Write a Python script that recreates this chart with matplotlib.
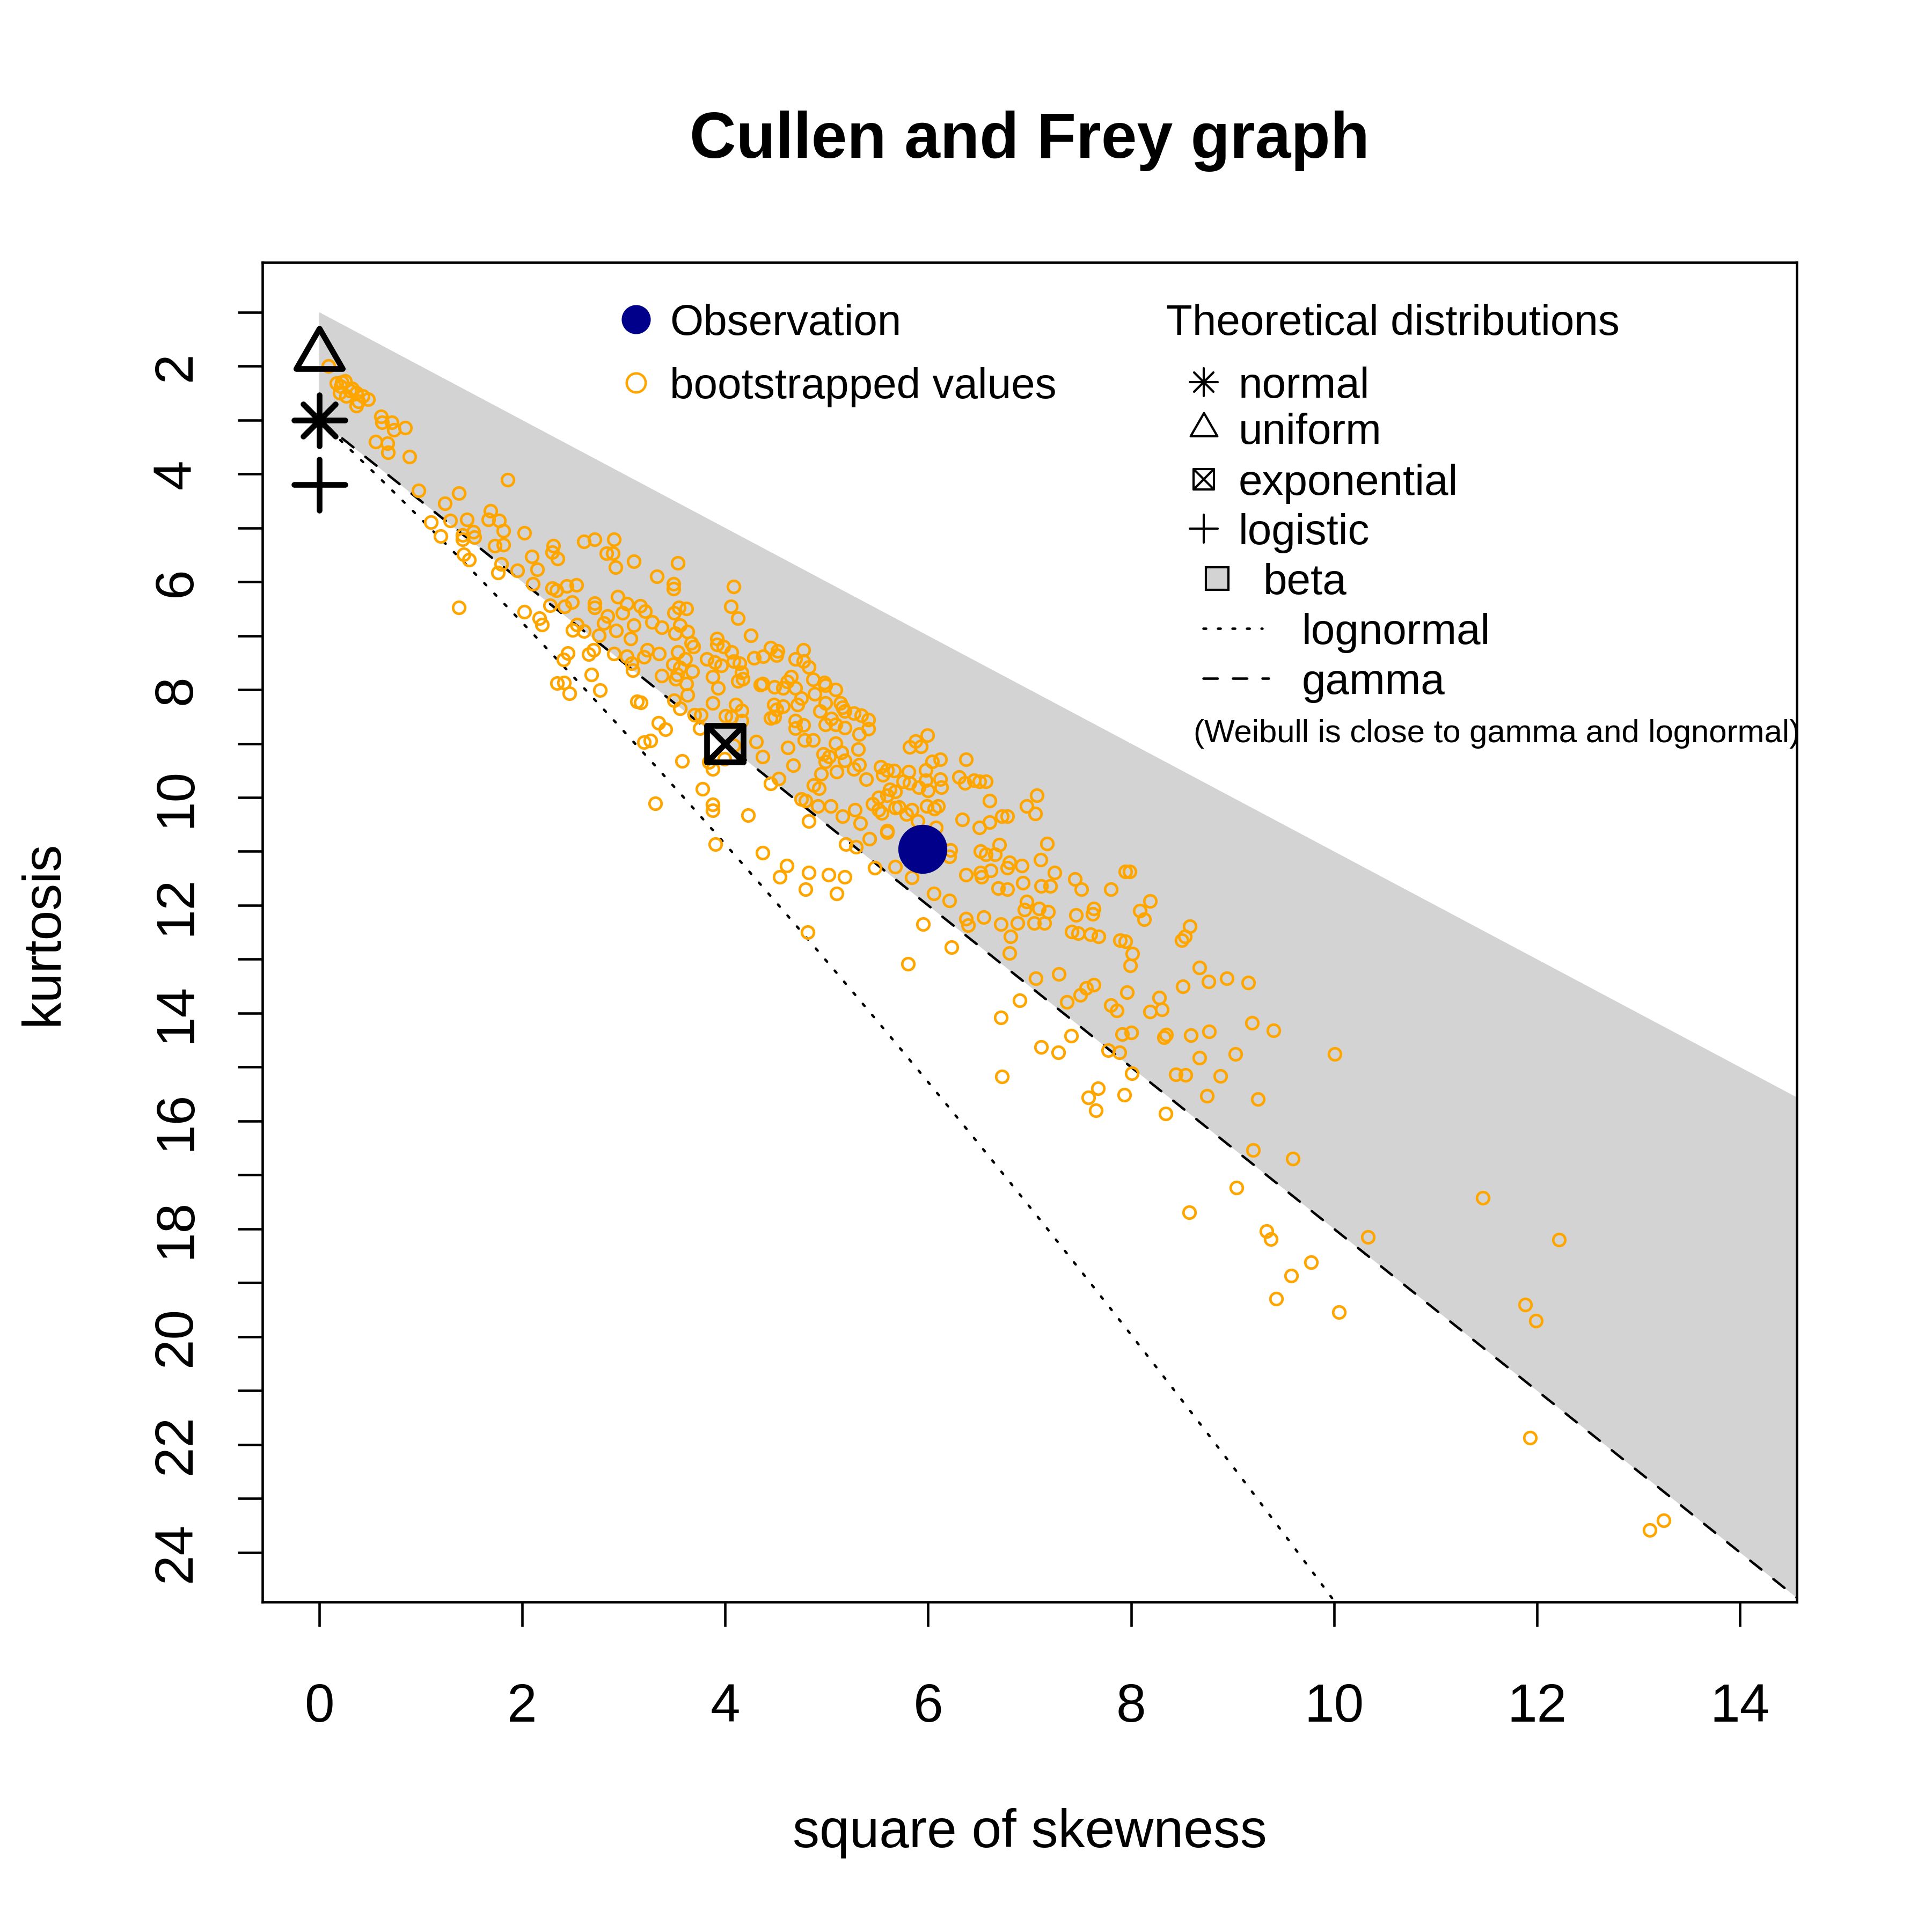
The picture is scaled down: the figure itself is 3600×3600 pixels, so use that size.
import numpy as np
import matplotlib
matplotlib.use("Agg")
import matplotlib.pyplot as plt
from matplotlib.path import Path
from matplotlib.markers import MarkerStyle

plt.rcParams['font.family'] = ['Liberation Sans', 'DejaVu Sans']

# ---------------- data ----------------
obs_s2 = [5.944]
obs_kurt = [10.958]

theo_names = ['normal', 'uniform', 'exponential', 'logistic']
theo_s2 = [0.0, 0.0, 4.0, 0.0]
theo_kurt = [3.0, 1.8, 9.0, 4.2]

# bootstrapped (skewness^2, kurtosis) values, grouped by region of the plot
boot_top = [
    (0.092, 2.003), (0.169, 2.318), (0.222, 2.298), (0.253, 2.279), (0.201, 2.495), (0.263, 2.555),
    (0.326, 2.417), (0.368, 2.495), (0.431, 2.555), (0.483, 2.614), (0.389, 2.653), (0.368, 2.732),
    (0.211, 2.377), (0.305, 2.456), (0.609, 2.929), (0.620, 3.047), (0.714, 3.047), (0.735, 3.185),
    (0.846, 3.146), (0.557, 3.402), (0.672, 3.434), (0.678, 3.599), (0.892, 3.678), (1.855, 4.111),
    (0.982, 4.309), (1.374, 4.356), (1.237, 4.545), (1.101, 4.892), (1.290, 4.860), (1.457, 4.841),
    (1.195, 5.156), (1.415, 5.136), (1.520, 5.077), (1.530, 5.176), (1.415, 5.215), (1.667, 4.841),
    (1.688, 4.683), (1.771, 4.860), (1.813, 5.057), (1.729, 5.333), (1.813, 5.314), (2.023, 5.097),
    (1.426, 5.491), (1.478, 5.590), (1.792, 5.668), (1.761, 5.826), (1.955, 5.787), (2.096, 5.531),
    (2.148, 5.767), (2.305, 5.333), (2.295, 5.452), (2.347, 5.570), (2.609, 5.255), (2.714, 5.215),
    (2.902, 5.215), (2.829, 5.471), (2.892, 5.471), (2.923, 5.728), (2.106, 6.043), (2.295, 6.122),
    (2.337, 6.161), (2.441, 6.082), (2.536, 6.063), (2.274, 6.437), (2.420, 6.457), (2.494, 6.378),
    (2.714, 6.398), (2.714, 6.476), (2.944, 6.279), (2.023, 6.555), (1.374, 6.476), (2.169, 6.673),
    (2.839, 6.634),
]
boot_left_low = [
    (2.496, 6.895), (2.537, 6.795), (2.608, 6.912), (2.195, 6.800), (2.452, 7.327), (2.408, 7.444),
    (2.655, 7.344), (2.346, 7.876), (2.414, 7.869), (2.465, 8.068),
]
boot_mid_left = [
    (3.100, 5.623), (3.536, 5.653), (3.329, 5.901), (3.491, 6.043), (3.491, 6.130), (4.083, 6.092),
    (4.059, 6.455), (4.124, 6.672), (4.255, 6.996), (2.988, 6.577), (3.029, 6.405), (3.161, 6.443),
    (3.211, 6.550), (3.100, 6.806), (3.282, 6.748), (3.374, 6.844), (3.495, 6.577), (3.546, 6.481),
    (3.617, 6.500), (3.556, 6.806), (3.627, 6.920), (3.505, 6.958), (2.928, 6.901), (2.806, 6.768),
    (2.755, 6.996), (3.069, 7.054), (3.667, 7.130), (3.688, 7.206), (2.705, 7.264), (2.903, 7.328),
    (3.029, 7.378), (3.201, 7.397), (3.232, 7.264), (3.349, 7.328), (3.080, 7.511), (3.090, 7.645),
    (3.374, 7.741), (3.536, 7.302), (3.607, 7.435), (3.485, 7.531), (3.556, 7.588), (3.526, 7.721),
    (3.515, 7.798), (3.678, 7.664), (3.617, 7.893), (3.627, 8.103), (3.495, 8.198), (3.556, 8.351),
    (2.684, 7.721), (2.765, 8.008), (3.130, 8.217), (3.171, 8.236), (3.343, 8.618), (3.414, 8.732),
    (3.201, 8.980), (3.262, 8.942), (3.576, 9.324), (3.779, 9.839), (3.313, 10.106), (3.880, 10.125),
    (3.698, 8.465), (3.759, 8.465), (3.748, 8.713), (3.880, 8.244), (3.840, 9.343), (3.880, 9.476),
    (3.992, 9.286), (4.083, 9.037), (3.921, 7.054), (3.921, 7.168), (3.982, 7.206), (4.063, 7.302),
    (3.819, 7.435), (3.901, 7.492), (3.961, 7.550), (4.083, 7.473), (4.144, 7.511), (4.164, 7.683),
    (4.124, 7.836), (4.174, 7.798), (3.876, 7.760), (3.931, 7.969), (4.002, 8.484), (4.103, 8.274),
    (4.164, 8.389), (4.063, 8.504), (4.164, 8.580), (4.306, 8.961), (4.367, 9.248), (4.448, 9.744),
    (4.529, 9.648), (4.286, 7.416), (4.377, 7.378), (4.448, 7.225), (4.519, 7.283), (4.509, 7.359),
    (4.691, 7.435), (4.772, 7.264), (4.772, 7.473), (4.367, 7.893), (4.347, 7.912), (4.488, 7.950),
    (4.570, 7.969), (4.651, 7.760), (4.610, 7.855), (4.691, 7.969), (4.478, 8.274), (4.509, 8.370),
    (4.448, 8.523), (4.488, 8.504), (4.570, 8.312), (4.752, 8.160), (4.711, 8.274), (4.691, 8.580),
    (4.772, 8.656), (4.691, 8.713), (4.620, 9.076), (4.671, 9.400), (4.752, 10.030),
]
boot_mid_dense = [
    (4.824, 7.581), (4.864, 7.810), (4.976, 7.867), (4.986, 7.924), (5.087, 8.000), (4.884, 8.077),
    (4.986, 8.248), (5.138, 8.248), (5.158, 8.325), (4.935, 8.401), (5.047, 8.535), (5.178, 8.401),
    (5.270, 8.439), (5.340, 8.477), (5.411, 8.554), (4.986, 8.649), (5.087, 8.649), (5.178, 8.706),
    (5.320, 8.821), (5.411, 8.725), (4.783, 8.935), (4.864, 8.935), (5.087, 8.992), (4.965, 9.195),
    (5.026, 9.240), (5.148, 9.164), (5.178, 9.317), (4.986, 9.336), (5.310, 9.107), (5.270, 9.469),
    (5.320, 9.393), (5.097, 9.527), (4.945, 9.565), (4.874, 9.775), (4.925, 9.832), (5.391, 9.660),
    (5.533, 9.431), (5.594, 9.488), (5.665, 9.507), (5.807, 9.527), (5.756, 9.698), (5.817, 9.736),
    (5.553, 9.584), (5.624, 9.851), (5.675, 9.889), (5.513, 10.004), (5.594, 9.965), (5.452, 10.118),
    (5.543, 10.290), (5.715, 10.175), (4.793, 10.061),
]
boot_mid_right = [
    (5.993, 8.847), (5.878, 8.954), (5.817, 9.069), (5.928, 9.050), (6.040, 9.336), (6.121, 9.298),
    (5.979, 9.488), (6.374, 9.290), (6.303, 9.622), (6.364, 9.736), (6.455, 9.679), (6.506, 9.698),
    (6.567, 9.698), (6.121, 9.660), (6.131, 9.813), (6.000, 9.870), (5.908, 9.813), (5.979, 9.679),
    (6.607, 10.061), (7.070, 9.965), (6.972, 10.156), (7.057, 10.301), (6.334, 10.404), (6.506, 10.557),
    (6.607, 10.454), (6.729, 10.347), (6.780, 10.347), (6.080, 10.557), (5.989, 10.156), (6.060, 10.213),
    (6.101, 10.156), (5.837, 10.232), (5.898, 10.442), (5.594, 10.614), (5.594, 10.652), (5.786, 10.309),
    (5.675, 10.194), (5.513, 10.232), (5.330, 10.480), (5.280, 10.232), (5.158, 10.347), (5.042, 10.156),
    (4.915, 10.156), (4.824, 10.442), (5.422, 10.767), (5.188, 10.862), (5.290, 10.919), (5.472, 11.308),
    (5.675, 11.282), (5.837, 11.484), (4.824, 11.396), (5.022, 11.434), (5.178, 11.472), (5.097, 11.778),
    (4.793, 11.701), (4.813, 12.503), (5.949, 12.350), (6.056, 11.778), (6.212, 11.911), (6.222, 10.976),
    (6.212, 11.091), (6.516, 10.995), (6.567, 11.053), (6.699, 10.873), (6.658, 11.053), (7.171, 10.854),
    (7.110, 11.159), (6.374, 11.434), (6.516, 11.396), (6.526, 11.472), (6.618, 11.358), (6.800, 11.205),
    (6.780, 11.301), (6.922, 11.262), (6.689, 11.682), (6.780, 11.701), (6.932, 11.587), (7.114, 11.644),
    (7.205, 11.644), (7.246, 11.396), (7.445, 11.511), (7.510, 11.701), (7.803, 11.701), (7.945, 11.377),
    (6.972, 11.930), (6.952, 12.083), (7.094, 12.064), (7.185, 12.121), (7.043, 12.331), (7.145, 12.331),
    (6.881, 12.331), (6.719, 12.350), (6.547, 12.216), (6.374, 12.254), (6.395, 12.369), (6.810, 12.579),
    (7.459, 12.178), (7.631, 12.064), (7.621, 12.159), (7.418, 12.484), (7.479, 12.522), (7.601, 12.541),
    (7.682, 12.579),
]
boot_lower_mid = [
    (3.875, 10.236), (4.227, 10.331), (3.905, 10.866), (4.367, 11.030), (4.605, 11.266), (4.537, 11.476),
    (5.802, 13.090), (6.232, 12.775), (6.804, 12.887), (6.717, 14.079), (6.726, 15.178), (7.651, 15.802),
    (8.339, 15.859),
]
boot_right = [
    (7.986, 11.373), (8.188, 11.919), (8.087, 12.098), (8.131, 12.262), (8.579, 12.392), (8.533, 12.582),
    (8.502, 12.643), (8.012, 12.899), (7.990, 13.120), (7.894, 12.651), (7.945, 12.670), (8.675, 13.159),
    (8.766, 13.414), (8.942, 13.357), (9.155, 13.433), (8.509, 13.502), (9.192, 14.177), (9.404, 14.318),
    (10.009, 14.761), (7.063, 13.357), (7.286, 13.273), (7.631, 13.471), (7.560, 13.529), (7.499, 13.662),
    (7.367, 13.796), (7.959, 13.613), (8.275, 13.708), (8.188, 13.975), (8.306, 13.929), (7.803, 13.853),
    (7.860, 13.948), (6.901, 13.765), (7.915, 14.387), (8.002, 14.356), (8.326, 14.444), (8.346, 14.398),
    (8.590, 14.414), (8.770, 14.341), (7.412, 14.418), (7.114, 14.627), (7.282, 14.730), (7.773, 14.692),
    (7.888, 14.723), (8.006, 15.120), (8.442, 15.131), (8.539, 15.150), (8.675, 14.826), (9.030, 14.761),
    (8.882, 15.169), (7.677, 15.391), (7.580, 15.562), (7.935, 15.513), (8.750, 15.532), (9.253, 15.589),
]
boot_tail = [
    (9.204, 16.535), (9.595, 16.700), (9.039, 17.234), (11.465, 17.425), (10.337, 18.155), (12.215, 18.200),
    (9.334, 18.044), (9.379, 18.191), (9.772, 18.614), (9.576, 18.867), (9.429, 19.295), (10.049, 19.548),
    (11.886, 19.401), (11.990, 19.700), (8.576, 17.689), (11.931, 21.870), (13.113, 23.585), (13.248, 23.406),
]

x_ticks = [0, 2, 4, 6, 8, 10, 12, 14]
y_ticks = list(range(1, 25))
y_tick_labels = [str(v) if v % 2 == 0 else '' for v in y_ticks]

# theoretical boundaries (Cullen & Frey definitions)
beta_s2 = [0, 20, 20, 0]
beta_kurt = [1, 21, 33, 3]
gamma_s2 = np.array([0.0, 20.0])
gamma_kurt = 3 + 1.5 * gamma_s2
lnorm_sigma = np.linspace(0, 0.8, 400)

DASHED = (0, (5.8, 6.2))
DOTTED = (0, (1.1, 4.8))

# ---------------- figure ----------------
fig = plt.figure(figsize=(12, 12), dpi=300)
ax = fig.add_axes([0.1358, 0.1708, 0.7942, 0.6933])
ax.set_xlim(-0.56, 14.56)
ax.set_ylim(24.92, 0.08)

ax.fill(beta_s2, beta_kurt, color='#D3D3D3', lw=0, zorder=1)

es2 = np.exp(lnorm_sigma ** 2)
ln_s2 = ((es2 - 1) * (2 + es2) ** 2)
ln_k = es2 ** 4 + 2 * es2 ** 3 + 3 * es2 ** 2 - 3
ax.plot(ln_s2, ln_k, color='black', lw=1.1, linestyle=DOTTED,
        dash_capstyle='round', zorder=2)
ax.plot(gamma_s2, gamma_kurt, color='black', lw=1.1, linestyle=DASHED,
        dash_capstyle='round', zorder=2)

boot_all = boot_top + boot_left_low + boot_mid_left + boot_mid_dense + boot_mid_right \
    + boot_lower_mid + boot_right + boot_tail
bx = [p[0] for p in boot_all]
by = [p[1] for p in boot_all]
ax.plot(bx, by, ls='none', marker='o', ms=5.4, mfc='none', mec='#FFA500', mew=1.15, zorder=3)

tri_path = Path([(0, 1.5551), (1.3468, -0.7776), (-1.3468, -0.7776), (0, 1.5551)],
                [Path.MOVETO, Path.LINETO, Path.LINETO, Path.CLOSEPOLY])
tri_m = MarkerStyle(tri_path, joinstyle='round')
plus_m = MarkerStyle('+', capstyle='round')
x_m = MarkerStyle('x', capstyle='round')
sq_m = MarkerStyle('s', joinstyle='round')

mlw = 2.55
# normal (asterisk)
ax.plot([theo_s2[0]], [theo_kurt[0]], ls='none', marker=plus_m, ms=22.8, mec='black', mew=mlw, zorder=4, clip_on=False)
ax.plot([theo_s2[0]], [theo_kurt[0]], ls='none', marker=x_m, ms=14.6, mec='black', mew=mlw, zorder=4, clip_on=False)
# uniform (triangle)
ax.plot([theo_s2[1]], [theo_kurt[1]], ls='none', marker=tri_m, ms=24, mfc='none', mec='black', mew=mlw, zorder=4, clip_on=False)
# exponential (square with cross)
ax.plot([theo_s2[2]], [theo_kurt[2]], ls='none', marker=sq_m, ms=16.5, mfc='none', mec='black', mew=mlw, zorder=4)
ax.plot([theo_s2[2]], [theo_kurt[2]], ls='none', marker=x_m, ms=16.5, mec='black', mew=mlw, zorder=4)
# logistic (+)
ax.plot([theo_s2[3]], [theo_kurt[3]], ls='none', marker=plus_m, ms=22.8, mec='black', mew=mlw, zorder=4, clip_on=False)

# observation
ax.plot(obs_s2, obs_kurt, ls='none', marker='o', ms=21.4, mfc='#00008B', mec='#00008B', mew=0.5, zorder=5)

# ---------------- axes styling ----------------
for sp in ax.spines.values():
    sp.set_linewidth(1.1)
ax.set_xticks(x_ticks)
ax.set_xticklabels([str(v) for v in x_ticks])
ax.set_yticks(y_ticks)
ax.set_yticklabels(y_tick_labels, rotation=90, va='center')
ax.tick_params(axis='x', length=11, width=1.1, pad=25, labelsize=24, direction='out')
ax.tick_params(axis='y', length=11, width=1.1, pad=16, labelsize=24, direction='out')

fig.text(0.533, 0.9183, 'Cullen and Frey graph', ha='center', va='baseline',
         fontsize=28.8, fontweight='bold')
fig.text(0.533, 0.0439, 'square of skewness', ha='center', va='baseline', fontsize=24)
fig.text(0.0225, 0.517, 'kurtosis', rotation=90, ha='center', va='center', fontsize=24)

# ---------------- legends ----------------
T = ax.transAxes
lfs = 19.2
lw_leg = 1.0
ax.plot([0.2436], [0.9575], transform=T, marker='o', ms=12.0, mfc='#00008B', mec='#00008B', ls='none', clip_on=False)
ax.text(0.2656, 0.9575, 'Observation', transform=T, fontsize=lfs, ha='left', va='center_baseline')
ax.plot([0.2436], [0.9103], transform=T, marker='o', ms=8.5, mfc='none', mec='#FFA500', mew=1.1, ls='none', clip_on=False)
ax.text(0.2656, 0.9103, 'bootstrapped values', transform=T, fontsize=lfs, ha='left', va='center_baseline')

ax.text(0.5892, 0.9575, 'Theoretical distributions', transform=T, fontsize=lfs, ha='left', va='center_baseline')
mx = 0.6135
ax.plot([mx], [0.9109], transform=T, marker=plus_m, ms=12.4, mec='black', mew=lw_leg, ls='none', clip_on=False)
ax.plot([mx], [0.9109], transform=T, marker=x_m, ms=8.8, mec='black', mew=lw_leg, ls='none', clip_on=False)
ax.text(0.6361, 0.9109, 'normal', transform=T, fontsize=lfs, ha='left', va='center_baseline')
ax.plot([mx], [0.8761], transform=T, marker=tri_m, ms=13.8, mfc='none', mec='black', mew=lw_leg, ls='none', clip_on=False)
ax.text(0.6361, 0.8761, 'uniform', transform=T, fontsize=lfs, ha='left', va='center_baseline')
ax.plot([mx], [0.8381], transform=T, marker=sq_m, ms=8.9, mfc='none', mec='black', mew=lw_leg, ls='none', clip_on=False)
ax.plot([mx], [0.8381], transform=T, marker=x_m, ms=8.9, mec='black', mew=lw_leg, ls='none', clip_on=False)
ax.text(0.6361, 0.8381, 'exponential', transform=T, fontsize=lfs, ha='left', va='center_baseline')
ax.plot([mx], [0.8013], transform=T, marker=plus_m, ms=12.4, mec='black', mew=lw_leg, ls='none', clip_on=False)
ax.text(0.6361, 0.8013, 'logistic', transform=T, fontsize=lfs, ha='left', va='center_baseline')
ax.plot([0.6221], [0.7640], transform=T, marker='s', ms=10.0, mfc='#D3D3D3', mec='black', mew=lw_leg, ls='none', clip_on=False)
ax.text(0.6523, 0.7640, 'beta', transform=T, fontsize=lfs, ha='left', va='center_baseline')
ax.plot([0.6131, 0.6516], [0.7270, 0.7270], transform=T, color='black', lw=1.1,
        linestyle=DOTTED, dash_capstyle='round', clip_on=False)
ax.text(0.6774, 0.7270, 'lognormal', transform=T, fontsize=lfs, ha='left', va='center_baseline')
ax.plot([0.6131, 0.6560], [0.6897, 0.6897], transform=T, color='black', lw=1.1,
        linestyle=DASHED, dash_capstyle='round', clip_on=False)
ax.text(0.6774, 0.6897, 'gamma', transform=T, fontsize=lfs, ha='left', va='center_baseline')
ax.text(0.6069, 0.6506, '(Weibull is close to gamma and lognormal)', transform=T, fontsize=14.4,
        ha='left', va='center_baseline')

fig.savefig('out.png', dpi=300)
